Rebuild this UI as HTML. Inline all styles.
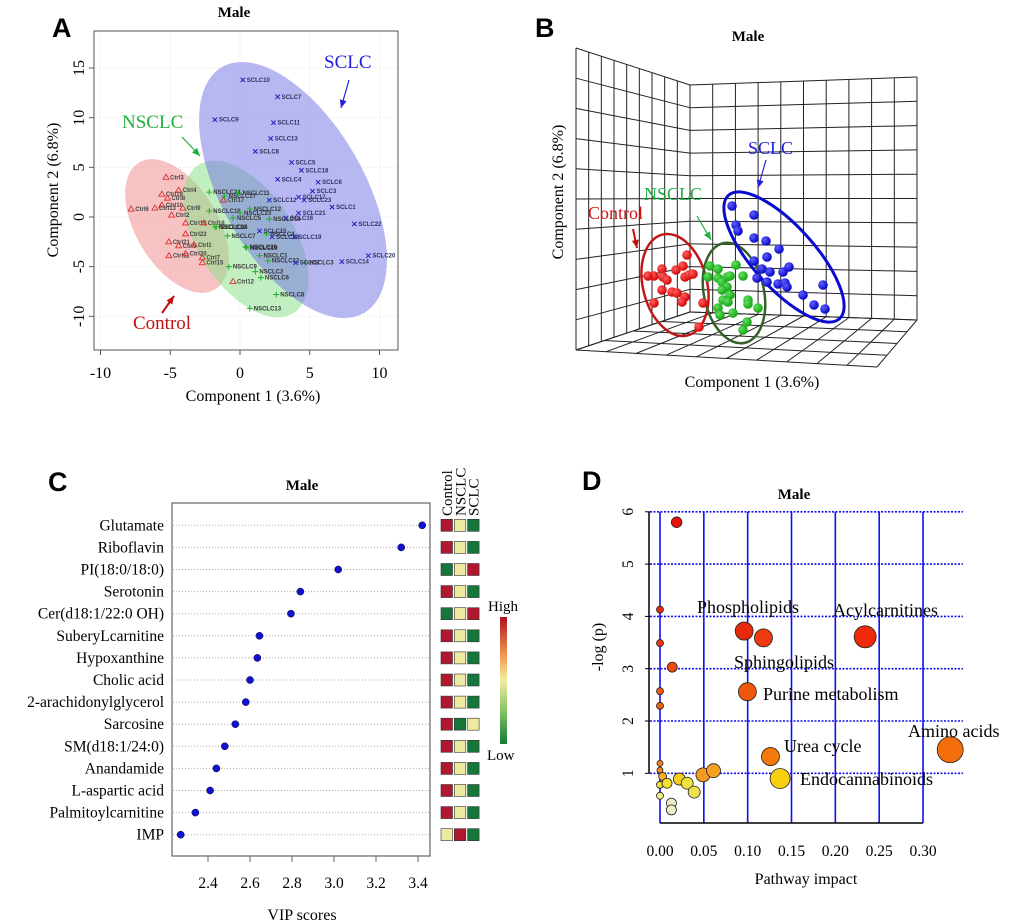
<!DOCTYPE html>
<html><head><meta charset="utf-8">
<style>
html,body{margin:0;padding:0;background:#fff;}
svg{display:block;}
.serif{font-family:"Liberation Serif",serif;}
.sans{font-family:"Liberation Sans",sans-serif;}
</style></head>
<body>
<svg id="fig" width="1020" height="924" viewBox="0 0 1020 924" xmlns="http://www.w3.org/2000/svg">
</svg>
<script>
// ===== Panel A data (component units) =====
const ctrlLabels = ['Ctrl3','Ctrl4','Ctrl19','Ctrl8','Ctrl10','Ctrl6','Ctrl13','Ctrl9','Ctrl2','Ctrl16','Ctrl18','Ctrl17','Ctrl22','Ctrl21','Ctrl5','Ctrl1','Ctrl11','Ctrl20','Ctrl7','Ctrl15','Ctrl12'];
const ctrlX = [-5.3,-4.4,-5.6,-5.2,-5.6,-7.8,-6.1,-4.1,-4.9,-3.9,-2.6,-1.2,-3.9,-5.1,-4.4,-3.3,-5.1,-3.9,-2.7,-2.7,-0.5];
const ctrlY = [4.0,2.7,2.3,1.9,1.2,0.8,0.9,0.9,0.2,-0.6,-0.6,1.7,-1.7,-2.5,-2.9,-2.8,-3.9,-3.7,-4.1,-4.6,-6.5];
const nsclcLabels = ['NSCLC24','NSCLC17','NSCLC11','NSCLC12','NSCLC18','NSCLC23','NSCLC5','NSCLC14','NSCLC16','NSCLC7','NSCLC20','NSCLC19','NSCLC1','NSCLC22','NSCLC3','NSCLC9','NSCLC2','NSCLC6','NSCLC8','NSCLC13','NSCLC10','NSCLC4'];
const nsclcX = [-2.2,-1.1,-0.1,0.7,-2.2,0.0,-0.5,-1.7,-1.8,-0.9,0.4,0.45,1.4,2.0,4.7,-0.8,1.1,1.5,2.6,0.7,2.1,1.9];
const nsclcY = [2.5,2.1,2.4,0.8,0.6,0.4,-0.1,-1.0,-1.0,-1.9,-3.0,-3.1,-3.9,-4.4,-4.6,-5.0,-5.5,-6.1,-7.8,-9.2,-0.2,-1.7];
const sclcLabels = ['SCLC10','SCLC7','SCLC9','SCLC11','SCLC13','SCLC8','SCLC5','SCLC18','SCLC4','SCLC6','SCLC3','SCLC17','SCLC12','SCLC23','SCLC1','SCLC21','SCLC16','SCLC22','SCLC15','SCLC24','SCLC19','SCLC2','SCLC14','SCLC20'];
const sclcX = [0.2,2.7,-1.8,2.4,2.2,1.1,3.7,4.4,2.7,5.6,5.2,4.2,2.1,4.6,6.6,4.2,3.3,8.2,1.4,2.3,3.9,4.0,7.3,9.2];
const sclcY = [13.8,12.1,9.8,9.5,7.9,6.6,5.5,4.7,3.8,3.5,2.6,2.0,1.7,1.7,1.0,0.4,-0.1,-0.7,-1.4,-2.0,-2.0,-4.6,-4.5,-3.9];
const aXTicks = [-10,-5,0,5,10];
const aYTicks = [-10,-5,0,5,10,15];

// ===== Panel B data (screen-projected sphere positions) =====
const bRedX = [687,662,676,683,654,648,663,667,685,689,693,662,672,677,685,682,654,703,699];
const bRedY = [255,269,270,266,276,276,277,280,277,275,274,290,292,293,297,302,303,303,327];
const bGreenX = [710,718,736,708,718,727,730,743,722,727,722,730,723,728,748,748,718,733,758,747,743,720];
const bGreenY = [266,269,265,277,278,277,276,276,282,287,290,295,300,302,300,304,308,313,308,322,330,315];
const bBlueX = [732,754,736,738,754,766,779,767,754,789,762,770,783,767,778,785,787,757,803,823,814,825];
const bBlueY = [206,215,225,231,238,241,249,257,261,267,269,272,272,282,284,283,287,278,295,285,305,309];

// ===== Panel C data =====
const vipNames = ['Glutamate','Riboflavin','PI(18:0/18:0)','Serotonin','Cer(d18:1/22:0 OH)','SuberyLcarnitine','Hypoxanthine','Cholic acid','2-arachidonylglycerol','Sarcosine','SM(d18:1/24:0)','Anandamide','L-aspartic acid','Palmitoylcarnitine','IMP'];
const vipScores = [3.42,3.32,3.02,2.84,2.795,2.645,2.635,2.60,2.58,2.53,2.48,2.44,2.41,2.34,2.27];
const heatControl = ['H','H','L','H','L','H','H','H','H','H','H','H','H','H','M'];
const heatNSCLC = ['M','M','M','M','M','M','M','M','M','L','M','M','M','M','H'];
const heatSCLC = ['L','L','H','L','H','L','L','L','L','M','L','L','L','L','L'];
const cXTicks = [2.4,2.6,2.8,3.0,3.2,3.4];

// ===== Panel D data =====
const pwImpact = [0.019,0,0,0.014,0,0,0,0,0.003,0,0,0.008,0.022,0.031,0.039,0.013,0.013,0.049,0.061,0.096,0.118,0.234,0.0997,0.126,0.137,0.331];
const pwLogP = [5.80,4.13,3.49,3.03,2.57,2.29,1.19,1.06,0.94,0.78,0.57,0.81,0.89,0.81,0.64,0.43,0.30,0.97,1.05,3.72,3.59,3.61,2.56,1.32,0.90,1.45];
const pwSize = [5.3,3.5,3.5,5,3.5,3.5,3,3,4,3.5,3.5,5,6,6,6,5,5,7,7,9,9,11,9,9,10,13];
const pwColor = ['#e8120c','#e52a10','#e83a10','#e84a10','#ee5a10','#ee6010','#f08020','#f08a20','#f5b020','#f0e030','#f0f080','#f5e030','#f5d020','#f0e040','#f0e050','#eeeec0','#eeeec8','#f59a20','#f5a020','#e82a0c','#ee3a0c','#ee2a0a','#f0560c','#f5780c','#f8d010','#f56e0c'];
const pwNames = ['Phospholipids','Acylcarnitines','Sphingolipids','Purine metabolism','Amino acids','Urea cycle','Endocannabinoids'];
const pwLabelX = [697,833,734,763,908,784,800];
const pwLabelY = [613,616,668,700,737,752,785];
const dXTicks = [0,0.05,0.10,0.15,0.20,0.25,0.30];
const dYTicks = [1,2,3,4,5,6];

const NS='http://www.w3.org/2000/svg';
const svg=document.getElementById('fig');
function mk(tag,attrs,parent){const e=document.createElementNS(NS,tag);for(const k in attrs)e.setAttribute(k,attrs[k]);(parent||svg).appendChild(e);return e;}
function txt(s,attrs,parent){const e=mk('text',attrs,parent);e.textContent=s;return e;}

// ---------- Panel A ----------
const gA=mk('g',{});


const ax=v=>240+v*13.95, ay=v=>217-v*9.93;
let t;
t=txt('A',{x:52,y:37,'font-size':27,'font-weight':'bold',class:'sans'},gA);


t=txt('Male',{x:234,y:17,'font-size':15,'font-weight':'bold',class:'serif','text-anchor':'middle'},gA);


const boxA=mk('rect',{x:94,y:31,width:304,height:319,fill:'#fff',stroke:'#555','stroke-width':1},gA);


aXTicks.forEach(v=>{const l=mk('line',{x1:ax(v),x2:ax(v),y1:32,y2:349,stroke:'#eee','stroke-dasharray':'2,2'},gA);


const tk=mk('line',{x1:ax(v),x2:ax(v),y1:350,y2:355,stroke:'#555'},gA);


const tl=txt(String(v),{x:ax(v),y:378,'font-size':16,class:'serif','text-anchor':'middle'},gA);

});
aYTicks.forEach(v=>{const l=mk('line',{x1:95,x2:397,y1:ay(v),y2:ay(v),stroke:'#eee','stroke-dasharray':'2,2'},gA);


const tk=mk('line',{x1:89,x2:94,y1:ay(v),y2:ay(v),stroke:'#555'},gA);


const tl=txt(String(v),{x:0,y:0,'font-size':16,class:'serif','text-anchor':'middle',transform:`translate(84,${ay(v)}) rotate(-90)`},gA);

});
t=txt('Component 1 (3.6%)',{x:253,y:401,'font-size':16,class:'serif','text-anchor':'middle'},gA);


t=txt('Component 2 (6.8%)',{x:0,y:0,'font-size':16,class:'serif','text-anchor':'middle',transform:'translate(58,190) rotate(-90)'},gA);


let el;
el=mk('ellipse',{cx:177,cy:226,rx:74,ry:41,fill:'#f29a9a','fill-opacity':0.6,transform:'rotate(59 177 226)'},gA);


el=mk('ellipse',{cx:246,cy:239,rx:88,ry:48,fill:'#8ee28e','fill-opacity':0.55,transform:'rotate(57 246 239)'},gA);


el=mk('ellipse',{cx:293,cy:190,rx:142,ry:71,fill:'#6f6fe6','fill-opacity':0.5,transform:'rotate(60 293 190)'},gA);


ctrlX.forEach((v,i)=>{const x=ax(v),y=ay(ctrlY[i]);
const m=mk('path',{d:`M${x},${y-3} L${x+3},${y+2} L${x-3},${y+2} Z`,fill:'none',stroke:'#e03030','stroke-width':0.9},gA);


const lb=txt(ctrlLabels[i],{x:x+4,y:y+2,'font-size':6,'font-weight':'bold',class:'sans',fill:'#444'},gA);

});
nsclcX.forEach((v,i)=>{const x=ax(v),y=ay(nsclcY[i]);
const m=mk('path',{d:`M${x-3},${y} H${x+3} M${x},${y-3} V${y+3}`,stroke:'#20b020','stroke-width':1},gA);


const lb=txt(nsclcLabels[i],{x:x+4,y:y+2,'font-size':6,'font-weight':'bold',class:'sans',fill:'#333'},gA);

});
sclcX.forEach((v,i)=>{const x=ax(v),y=ay(sclcY[i]);
const m=mk('path',{d:`M${x-2.2},${y-2.2} L${x+2.2},${y+2.2} M${x+2.2},${y-2.2} L${x-2.2},${y+2.2}`,stroke:'#2020c0','stroke-width':1},gA);


const lb=txt(sclcLabels[i],{x:x+4,y:y+2,'font-size':6,'font-weight':'bold',class:'sans',fill:'#303060'},gA);

});
t=txt('SCLC',{x:324,y:68,'font-size':19,class:'serif',fill:'#2020e0'},gA);


t=txt('NSCLC',{x:122,y:128,'font-size':19,class:'serif',fill:'#20b040'},gA);


t=txt('Control',{x:133,y:329,'font-size':19,class:'serif',fill:'#c01010'},gA);


function arrow(x1,y1,x2,y2,c,w,p,name){const g=mk('g',{},p);


mk('line',{x1,y1,x2,y2,stroke:c,'stroke-width':w},g);
const a=Math.atan2(y2-y1,x2-x1),L=8,W=3.5;
const bx=x2-L*Math.cos(a),by=y2-L*Math.sin(a);
mk('path',{d:`M${x2},${y2} L${bx+W*Math.sin(a)},${by-W*Math.cos(a)} L${bx-W*Math.sin(a)},${by+W*Math.cos(a)} Z`,fill:c},g);}
arrow(349,80,341,108,'#2020e0',1.2,gA,'sclc-arrow');
arrow(182,137,200,156,'#20b040',1.2,gA,'nsclc-arrow');
arrow(162,313,174,296,'#c01010',2,gA,'control-arrow');

// ---------- Panel B ----------
const gB=mk('g',{});


t=txt('B',{x:535,y:37,'font-size':27,'font-weight':'bold',class:'sans'},gB);


t=txt('Male',{x:748,y:41,'font-size':15,'font-weight':'bold',class:'serif','text-anchor':'middle'},gB);


function lerp(a,b,t){return [a[0]+(b[0]-a[0])*t,a[1]+(b[1]-a[1])*t];}
function quadGrid(p00,p10,p01,p11,nu,nv,name){const g=mk('g',{stroke:'#222','stroke-width':1,fill:'none'},gB);


for(let i=0;i<=nu;i++){const a=lerp(p00,p10,i/nu),b=lerp(p01,p11,i/nu);mk('line',{x1:a[0],y1:a[1],x2:b[0],y2:b[1]},g);}
for(let j=0;j<=nv;j++){const a=lerp(p00,p01,j/nv),b=lerp(p10,p11,j/nv);mk('line',{x1:a[0],y1:a[1],x2:b[0],y2:b[1]},g);}}
quadGrid([576,48],[690,85],[576,350],[690,312],9,10,'left-wall-grid');
quadGrid([690,85],[917,77],[690,312],[917,320],10,10,'back-wall-grid');
quadGrid([690,312],[917,320],[576,350],[877,367],10,4,'floor-grid');
el=mk('ellipse',{cx:675,cy:285,rx:32,ry:52,fill:'none',stroke:'#c01818','stroke-width':2.5,transform:'rotate(-14 675 285)'},gB);


el=mk('ellipse',{cx:734,cy:293,rx:30,ry:51,fill:'none',stroke:'#35602a','stroke-width':2.5,transform:'rotate(-12 734 293)'},gB);


el=mk('ellipse',{cx:784,cy:257,rx:83,ry:31,fill:'none',stroke:'#0a0ad0','stroke-width':3,transform:'rotate(48 784 257)'},gB);


const defs=mk('defs',{});
[['gr','#ff6060','#d00000'],['gg','#60e060','#10a010'],['gb','#6060ff','#0000c0']].forEach(([id,c1,c2])=>{const rg=mk('radialGradient',{id,cx:'0.35',cy:'0.35',r:'0.7'},defs);mk('stop',{offset:'0','stop-color':c1},rg);mk('stop',{offset:'1','stop-color':c2},rg);});
function spheres(xs,ys,grad,name){xs.forEach((x,i)=>{const c=mk('circle',{cx:x,cy:ys[i],r:4.8,fill:`url(#${grad})`},gB);

});}
spheres(bRedX,bRedY,'gr','control-sphere');
spheres(bGreenX,bGreenY,'gg','nsclc-sphere');
spheres(bBlueX,bBlueY,'gb','sclc-sphere');
t=txt('SCLC',{x:748,y:154,'font-size':18,class:'serif',fill:'#2020e0'},gB);


t=txt('NSCLC',{x:644,y:200,'font-size':18,class:'serif',fill:'#20b040'},gB);


t=txt('Control',{x:588,y:219,'font-size':18,class:'serif',fill:'#d01010'},gB);


arrow(766,160,758,188,'#2020e0',1.2,gB,'sclc-arrow-3d');
arrow(697,216,711,240,'#20b040',1.2,gB,'nsclc-arrow-3d');
arrow(633,229,637,248,'#c01010',2,gB,'control-arrow-3d');
t=txt('Component 2 (6.8%)',{x:0,y:0,'font-size':16,class:'serif','text-anchor':'middle',transform:'translate(563,192) rotate(-90)'},gB);


t=txt('Component 1 (3.6%)',{x:752,y:387,'font-size':16,class:'serif','text-anchor':'middle'},gB);



// ---------- Panel C ----------
const gC=mk('g',{});


const cx=v=>208+(v-2.4)*210, rowY=i=>525.3+i*22.1;
t=txt('C',{x:48,y:491,'font-size':27,'font-weight':'bold',class:'sans'},gC);


t=txt('Male',{x:302,y:490,'font-size':15,'font-weight':'bold',class:'serif','text-anchor':'middle'},gC);


const boxC=mk('rect',{x:172,y:503,width:258,height:353,fill:'none',stroke:'#666','stroke-width':1.2},gC);


vipNames.forEach((n,i)=>{const y=rowY(i);
const gl=mk('line',{x1:173,x2:429,y1:y,y2:y,stroke:'#aaa','stroke-dasharray':'1,2'},gC);


const lb=txt(n,{x:164,y:y+5,'font-size':15.5,class:'serif','text-anchor':'end'},gC);


const d=mk('circle',{cx:cx(vipScores[i]),cy:y,r:3.6,fill:'#1010d0',stroke:'#000','stroke-width':0.4},gC);


const col={H:'#b01830',M:'#eeeaa0',L:'#17763a'};
[heatControl,heatNSCLC,heatSCLC].forEach((arr,j)=>{const r=mk('rect',{x:441+j*13.3,y:y-6,width:11.5,height:12,fill:col[arr[i]],stroke:'#333','stroke-width':0.6},gC);

});});
cXTicks.forEach(v=>{const tk=mk('line',{x1:cx(v),x2:cx(v),y1:856,y2:862,stroke:'#666'},gC);


const tl=txt(v.toFixed(1),{x:cx(v),y:888,'font-size':15.5,class:'serif','text-anchor':'middle'},gC);

});
t=txt('VIP scores',{x:302,y:920,'font-size':16,class:'serif','text-anchor':'middle'},gC);


['Control','NSCLC','SCLC'].forEach((n,j)=>{const h=txt(n,{x:0,y:0,'font-size':15,class:'serif',transform:`translate(${452+j*13.3},516) rotate(-90)`},gC);

});
const lg=mk('linearGradient',{id:'cbar',x1:0,y1:0,x2:0,y2:1},defs);
mk('stop',{offset:'0','stop-color':'#b01020'},lg);mk('stop',{offset:'0.3','stop-color':'#ef9a50'},lg);mk('stop',{offset:'0.5','stop-color':'#f3eea0'},lg);mk('stop',{offset:'0.75','stop-color':'#80c060'},lg);mk('stop',{offset:'1','stop-color':'#137a38'},lg);
const cb=mk('rect',{x:500,y:617,width:7,height:127,fill:'url(#cbar)'},gC);


t=txt('High',{x:488,y:611,'font-size':15,class:'serif'},gC);


t=txt('Low',{x:487,y:760,'font-size':15,class:'serif'},gC);



// ---------- Panel D ----------
const gD=mk('g',{});


const dx=v=>660+v*876.7, dy=v=>773.3-(v-1)*52.3;
t=txt('D',{x:582,y:490,'font-size':27,'font-weight':'bold',class:'sans'},gD);


t=txt('Male',{x:794,y:499,'font-size':15,'font-weight':'bold',class:'serif','text-anchor':'middle'},gD);


dXTicks.forEach(v=>{const l=mk('line',{x1:dx(v),x2:dx(v),y1:dy(6),y2:823,stroke:'#1010ee','stroke-width':1.6},gD);


const tl=txt(v.toFixed(2),{x:dx(v),y:856,'font-size':15.5,class:'serif','text-anchor':'middle'},gD);

});
dYTicks.forEach(v=>{const l=mk('line',{x1:650,x2:963,y1:dy(v),y2:dy(v),stroke:'#1010ee','stroke-width':1.6,'stroke-dasharray':'2,1.5'},gD);


const tk=mk('line',{x1:645,x2:650,y1:dy(v),y2:dy(v),stroke:'#000'},gD);


const tl=txt(String(v),{x:0,y:0,'font-size':15.5,class:'serif','text-anchor':'middle',transform:`translate(633,${dy(v)}) rotate(-90)`},gD);

});
el=mk('line',{x1:649,x2:649,y1:dy(6),y2:dy(1),stroke:'#000','stroke-width':1.5},gD);


el=mk('line',{x1:dx(0),x2:dx(0.30),y1:823,y2:823,stroke:'#000','stroke-width':1.5},gD);


pwImpact.forEach((v,i)=>{const c=mk('circle',{cx:dx(v),cy:dy(pwLogP[i]),r:pwSize[i],fill:pwColor[i],stroke:'#222','stroke-width':0.8},gD);

});
pwNames.forEach((n,i)=>{const l=txt(n,{x:pwLabelX[i],y:pwLabelY[i],'font-size':18,class:'serif'},gD);

});
t=txt('-log (p)',{x:0,y:0,'font-size':16,class:'serif','text-anchor':'middle',transform:'translate(603,647) rotate(-90)'},gD);


t=txt('Pathway impact',{x:806,y:884,'font-size':16,class:'serif','text-anchor':'middle'},gD);


</script>
</body></html>
